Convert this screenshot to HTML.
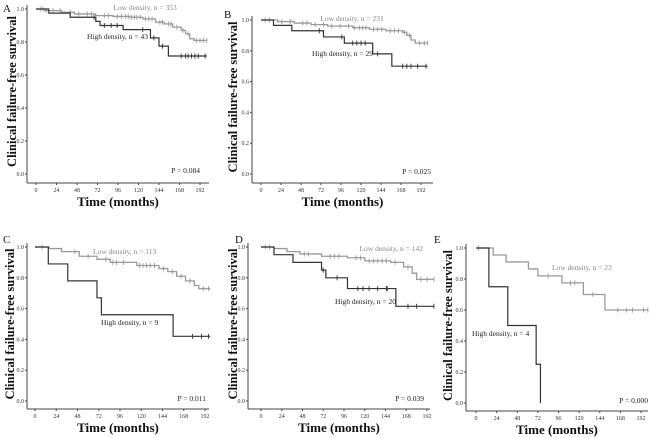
<!DOCTYPE html>
<html><head><meta charset="utf-8"><style>
html,body{margin:0;padding:0;background:#fff;width:650px;height:438px;overflow:hidden}
svg text{font-family:"Liberation Serif",serif}
</style></head><body>
<svg id="chart" width="650" height="438" viewBox="0 0 650 438" xmlns="http://www.w3.org/2000/svg"></svg>
<script>
// ---- data (time in months, survival proportion) ----
const xTicks = [0,24,48,72,96,120,144,168,192];
const yTicks = [0.0,0.2,0.4,0.6,0.8,1.0];
const yTickLabels = ["0.0","0.2","0.4","0.6","0.8","1.0"];
const panelLetters = ["A","B","C","D","E"];
const pValues = ["P = 0.084","P = 0.025","P = 0.011","P = 0.039","P = 0.000"];
const lowLabels = ["Low density, n = 353","Low density, n = 231","Low density, n = 113","Low density, n = 142","Low density, n = 23"];
const highLabels = ["High density, n = 43","High density, n = 29","High density, n = 9","High density, n = 20","High density, n = 4"];

const lowTimesA = [0,10,30,45,70,90,110,125,140,150,160,170,175,180,185];
const lowSurvA  = [1,0.99,0.98,0.97,0.96,0.955,0.95,0.94,0.92,0.91,0.89,0.87,0.85,0.82,0.81];
const lowCensA  = [5,8,12,20,28,40,50,60,65,80,85,95,100,105,108,112,115,118,122,128,132,136,145,148,155,158,165,172,178,188,192,196,200];
const highTimesA = [0,15,40,70,75,102,134,144,155];
const highSurvA  = [1,0.975,0.95,0.925,0.9,0.875,0.825,0.775,0.715];
const highCensA  = [68,80,88,95,125,138,148,170,175,178,182,186,190,198];

const lowTimesB = [0,20,40,60,80,110,130,150,170,175,180,185];
const lowSurvB  = [1,0.99,0.98,0.97,0.96,0.95,0.94,0.93,0.92,0.9,0.87,0.85];
const lowCensB  = [5,10,25,35,50,55,65,75,85,95,105,112,118,122,126,135,140,145,155,160,165,172,178,190,196,200];
const highTimesB = [0,15,37,75,100,134,157];
const highSurvB  = [1,0.965,0.93,0.89,0.85,0.78,0.7];
const highCensB  = [70,97,110,115,120,125,140,170,175,180,188,198];

const lowTimesC = [0,16,30,50,70,85,115,140,150,160,170,180,185];
const lowSurvC  = [1,0.99,0.97,0.94,0.92,0.9,0.88,0.86,0.84,0.81,0.78,0.75,0.73];
const lowCensC  = [8,45,60,80,88,92,100,118,122,126,130,135,145,155,165,175,190,196];
const highTimesC = [0,15,37,70,75,156];
const highSurvC  = [1,0.89,0.78,0.67,0.56,0.42];
const highCensC  = [178,188,196];

const lowTimesD = [0,15,30,45,70,100,120,150,165,175,180];
const lowSurvD  = [1,0.99,0.97,0.955,0.94,0.93,0.91,0.9,0.87,0.83,0.79];
const lowCensD  = [5,10,50,55,80,85,90,110,115,125,130,135,140,145,155,170,185,192,200];
const highTimesD = [0,15,37,70,75,100,156];
const highSurvD  = [1,0.95,0.9,0.85,0.8,0.73,0.615];
const highCensD  = [72,88,112,118,125,135,145,146,170,180,200];

const lowTimesE = [0,20,35,61,72,100,125,150];
const lowSurvE  = [1,0.955,0.91,0.865,0.82,0.775,0.7,0.6];
const lowCensE  = [3,84,110,115,136,165,175,182,195,200];
const highTimesE = [0,15,37,70,75];
const highSurvE  = [1,0.75,0.5,0.25,0.0];
const highCensE  = [];

const lowEnds = [200,200,198,200,200];
const highEnds = [200,200,198,200,75];

// ---- layout ----
const panels = [
 {ax:27,x0:36,x1:200,xe:209,y1:9,y0:174,ay:183,lx:3,ly:12,tx:12,lowL:[145,10,'middle'],highL:[148,39,'end'],p:[200,173]},
 {ax:252,x0:261,x1:421,xe:433,y1:20,y0:174,ay:183,lx:224,ly:18,tx:233,lowL:[352,21,'middle'],highL:[373,56,'end'],p:[431,174]},
 {ax:27,x0:35,x1:205,xe:209,y1:247,y0:401,ay:409,lx:3,ly:243,tx:10,lowL:[93,254,'start'],highL:[101,325,'start'],p:[206,401]},
 {ax:248,x0:261,x1:427,xe:430,y1:247,y0:401,ay:409,lx:235,ly:243,tx:233,lowL:[423,251,'end'],highL:[396,304,'end'],p:[424,401]},
 {ax:466,x0:476,x1:641,xe:648,y1:248,y0:403,ay:411,lx:434,ly:243,tx:448,lowL:[552,270,'start'],highL:[472,336,'start'],p:[648,403]}
];
const lowT=[lowTimesA,lowTimesB,lowTimesC,lowTimesD,lowTimesE], lowS=[lowSurvA,lowSurvB,lowSurvC,lowSurvD,lowSurvE], lowC=[lowCensA,lowCensB,lowCensC,lowCensD,lowCensE];
const highT=[highTimesA,highTimesB,highTimesC,highTimesD,highTimesE], highS=[highSurvA,highSurvB,highSurvC,highSurvD,highSurvE], highC=[highCensA,highCensB,highCensC,highCensD,highCensE];

const svg=document.getElementById('chart');
const NS='http://www.w3.org/2000/svg';
function mk(tag,attrs,parent){const e=document.createElementNS(NS,tag);for(const k in attrs)e.setAttribute(k,attrs[k]);parent.appendChild(e);return e;}
function survAt(ts,ss,t){let s=ss[0];for(let i=0;i<ts.length;i++){if(ts[i]<=t)s=ss[i];}return s;}

panels.forEach((P,i)=>{
  const g=mk('g',{},svg);
  
  
  const X=t=>P.x0+t*(P.x1-P.x0)/192;
  const Y=s=>P.y0-s*(P.y0-P.y1);
  const ya=mk('line',{x1:P.ax,y1:P.y1-4,x2:P.ax,y2:P.ay,stroke:'#444','stroke-width':1},g);
  
  
  const xa=mk('line',{x1:P.ax,y1:P.ay,x2:P.xe,y2:P.ay,stroke:'#444','stroke-width':1},g);
  
  
  yTicks.forEach((v,j)=>{
    mk('line',{x1:P.ax-2,y1:Y(v),x2:P.ax,y2:Y(v),stroke:'#444'},g);
    const t=mk('text',{x:P.ax-3,y:Y(v)+2,'font-size':6,'text-anchor':'end',fill:'#333'},g);
    t.textContent=yTickLabels[j];
    
    
  });
  xTicks.forEach(v=>{
    mk('line',{x1:X(v),y1:P.ay,x2:X(v),y2:P.ay+2,stroke:'#444'},g);
    const t=mk('text',{x:X(v),y:P.ay+9,'font-size':6,'text-anchor':'middle',fill:'#333'},g);
    t.textContent=String(v);
    
    
  });
  const xt=mk('text',{x:(P.ax+P.xe)/2,y:P.ay+23,'font-size':13,'font-weight':'bold','text-anchor':'middle',fill:'#111'},g);
  xt.textContent='Time (months)';
  
  
  const ytc=(P.y0+P.y1)/2;
  const yt=mk('text',{x:P.tx,y:ytc,'font-size':12.5,'font-weight':'bold','text-anchor':'middle',fill:'#111',transform:`rotate(-90 ${P.tx} ${ytc})`,dy:4},g);
  yt.textContent='Clinical failure-free survival';
  
  
  const lt=mk('text',{x:P.lx,y:P.ly,'font-size':11,fill:'#111'},g);
  lt.textContent=panelLetters[i];
  
  
  const pt=mk('text',{x:P.p[0],y:P.p[1],'font-size':7.5,'text-anchor':'end',fill:'#222'},g);
  pt.textContent=pValues[i];
  
  
  function curve(ts,ss,cs,end,color,w,name){
    let d=`M${X(ts[0])},${Y(ss[0])}`;
    for(let k=1;k<ts.length;k++){d+=` H${X(ts[k])} V${Y(ss[k])}`;}
    d+=` H${X(end)}`;
    const p=mk('path',{d:d,fill:'none',stroke:color,'stroke-width':w},g);
    
    
    cs.forEach(c=>{
      const s=survAt(ts,ss,c);
      const m=mk('line',{x1:X(c),y1:Y(s)-2.5,x2:X(c),y2:Y(s)+2.5,stroke:color,'stroke-width':0.9},g);
      
      
    });
  }
  curve(lowT[i],lowS[i],lowC[i],lowEnds[i],'#9a9a9a',1.3,'low-density-curve');
  curve(highT[i],highS[i],highC[i],highEnds[i],'#333',1.2,'high-density-curve');
  const l1=mk('text',{x:P.lowL[0],y:P.lowL[1],'font-size':7.5,'text-anchor':P.lowL[2],fill:'#888'},g);
  l1.textContent=lowLabels[i];
  
  
  const l2=mk('text',{x:P.highL[0],y:P.highL[1],'font-size':7.5,'text-anchor':P.highL[2],fill:'#222'},g);
  l2.textContent=highLabels[i];
  
  
});
</script>
</body></html>
